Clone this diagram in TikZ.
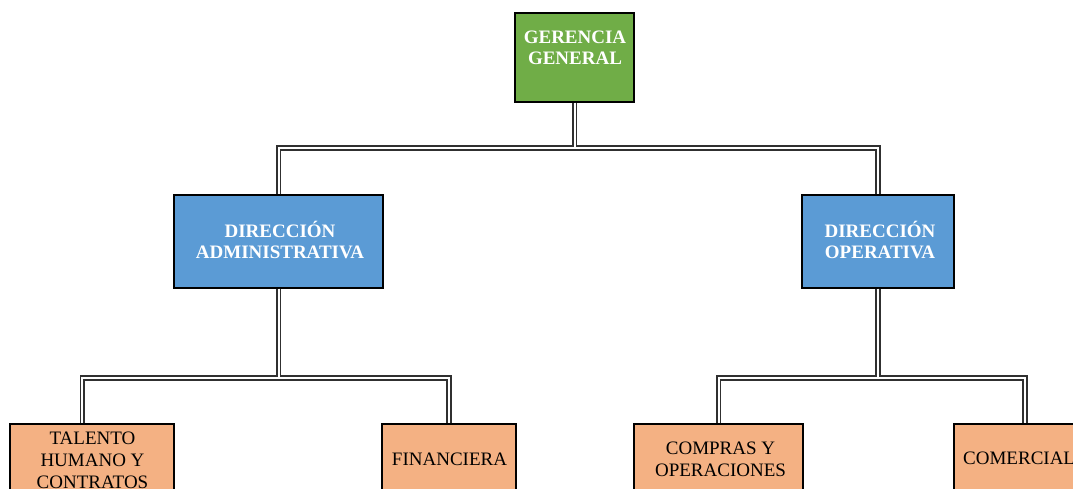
\documentclass[tikz,border=0pt]{standalone}
\usepackage{fontspec}
\setmainfont{Liberation Serif}
\definecolor{ggreen}{HTML}{70AD47}
\definecolor{gblue}{HTML}{5B9BD5}
\definecolor{gorange}{HTML}{F4B183}
\definecolor{gline}{HTML}{303030}
\begin{document}
\begin{tikzpicture}[x=1pt,y=-1pt,
  box/.style={draw=black, line width=1.3pt, inner sep=0pt},
  topbox/.style={box, fill=ggreen},
  dirbox/.style={box, fill=gblue},
  areabox/.style={box, fill=gorange},
  toptext/.style={text=white, font=\fontsize{19}{21}\selectfont\bfseries, align=center, inner sep=0pt, anchor=base},
  areatext/.style={text=black, font=\fontsize{19}{22}\selectfont, align=center, inner sep=0pt, anchor=base},
  conn/.style={draw=gline, line width=1.7pt, double=white, double distance=2pt, line join=miter}]
\useasboundingbox (0,0) rectangle (1073,488);
\clip (0,0) rectangle (1073,488);
% boxes
\node[topbox, minimum width=119pt, minimum height=89pt] (gg) at (574.5,57.5) {};
\node[dirbox, minimum width=209pt, minimum height=93pt] (da) at (278.5,241.5) {};
\node[dirbox, minimum width=152pt, minimum height=93pt] (do) at (878,241.5) {};
\node[areabox, minimum width=164pt, minimum height=100pt] (tal) at (92,474) {};
\node[areabox, minimum width=134pt, minimum height=100pt] (fin) at (449,474) {};
\node[areabox, minimum width=169pt, minimum height=100pt] (com) at (718.5,474) {};
\node[areabox, minimum width=142pt, minimum height=100pt] (cml) at (1025,474) {};
% texts (base anchor = last line baseline)
\node[toptext] (ggt) at (575,64) {GERENCIA\\GENERAL};
\node[toptext] (dat) at (280,258) {DIRECCIÓN\\ADMINISTRATIVA};
\node[toptext] (dot) at (880,258) {DIRECCIÓN\\OPERATIVA};
\node[areatext] (talt) at (92.5,488) {TALENTO\\HUMANO Y\\CONTRATOS};
\node[areatext] (fint) at (449.5,465) {FINANCIERA};
\node[areatext] (comt) at (720.5,476) {COMPRAS Y\\OPERACIONES};
\node[areatext, anchor=base west] (cmlt) at (963,464) {COMERCIAL};
% connector points
\coordinate (bus1) at (574.5,148);
\coordinate (bus2) at (278.5,378);
\coordinate (bus3) at (878,378);
\coordinate (talin) at ([xshift=73pt]tal.north west);
% connectors
\draw[conn] (gg.south) -- (bus1) -| (da.north) (bus1) -| (do.north)
  (da.south) -- (bus2) -| (talin) (bus2) -| (fin.north)
  (do.south) -- (bus3) -| (com.north) (bus3) -| (cml.north);
\end{tikzpicture}
\end{document}
